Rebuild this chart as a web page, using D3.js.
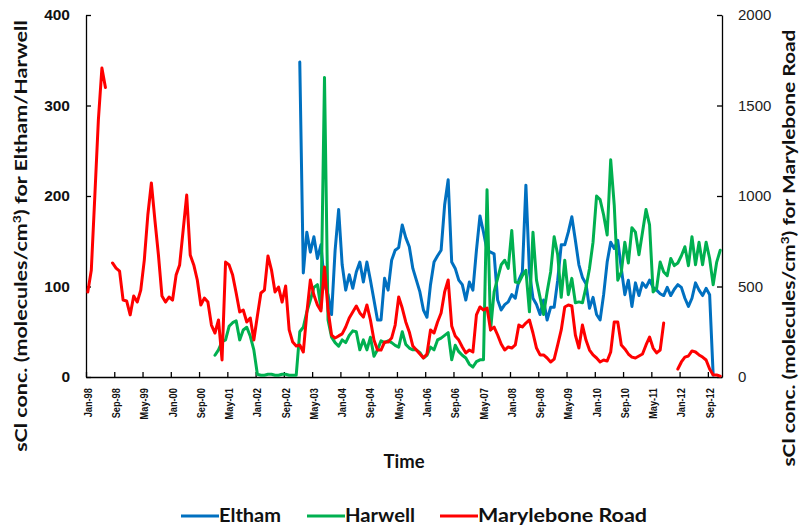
<!DOCTYPE html>
<html>
<head>
<meta charset="utf-8">
<script src="https://cdn.jsdelivr.net/npm/d3@7"></script>
<style>
  body { margin: 0; background: #fff; }
  svg { display: block; font-family: Lato, "Open Sans", sans-serif; }
  .axis path, .axis line { stroke: #000; stroke-width: 1.3; }
  .axis text { fill: #111; font-weight: bold; }
</style>
</head>
<body>
<svg id="chart" width="801" height="526"></svg>
<script>
// x tick labels, one every 8 months
const tickLabels = ["Jan-98", "Sep-98", "May-99", "Jan-00", "Sep-00", "May-01", "Jan-02", "Sep-02",
    "May-03", "Jan-04", "Sep-04", "May-05", "Jan-06", "Sep-06", "May-07", "Jan-08", "Sep-08",
    "May-09", "Jan-10", "Sep-10", "May-11", "Jan-12", "Sep-12"];

// monthly categories Jan-98 .. Dec-12
const months = d3.timeMonth.range(new Date(1998, 0, 1), new Date(2013, 0, 1));

const _ = null;
// Eltham (left axis)
const eltham = [
    _, _, _, _, _, _, _, _, _, _, _, _, _, _, _, _, _, _, _, _,
    _, _, _, _, _, _, _, _, _, _, _, _, _, _, _, _, _, _, _, _,
    _, _, _, _, _, _, _, _, _, _, _, _, _, _, _, _, _, _, _, _,
    348, 115, 160, 138, 155, 131, 146, 102, 91, 69,
    140, 185, 124, 96, 113, 98, 116, 127, 105, 127,
    107, 85, 63, 63, 109, 96, 129, 140, 143, 168,
    154, 144, 120, 107, 94, 74, 66, 102, 127, 134,
    140, 190, 218, 127, 120, 107, 102, 85, 105, 96,
    140, 178, 160, 140, 138, 136, 85, 74, 80, 83,
    91, 87, 107, 116, 212, 116, 87, 80, 69, 85,
    63, 77, 77, 107, 146, 146, 160, 177, 151, 124,
    110, 103, 76, 88, 69, 63, 91, 127, 149, 142,
    151, 120, 91, 107, 78, 104, 90, 104, 99, 107,
    99, 96, 92, 90, 99, 90, 97, 102, 99, 87,
    78, 87, 104, 96, 90, 98, 91, 2, _, _
];

// Harwell (left axis)
const harwell = [
    _, _, _, _, _, _, _, _, _, _, _, _, _, _, _, _, _, _, _, _,
    _, _, _, _, _, _, _, _, _, _, _, _, _, _, _, _, 24, 30, 39, 41,
    56, 60, 62, 41, 52, 55, 45, 30, 3, 2, 2, 3, 3, 2, 2, 3, 3, 2, 2, 2,
    50, 55, 72, 85, 99, 102, 76, 331, 63, 44,
    38, 34, 41, 38, 46, 51, 50, 30, 41, 30,
    44, 23, 30, 40, 38, 40, 38, 35, 33, 50,
    36, 32, 30, 30, 27, 21, 24, 33, 30, 41,
    43, 46, 49, 19, 35, 28, 24, 21, 14, 11,
    17, 19, 19, 207, 52, 94, 109, 124, 129, 120,
    162, 105, 104, 112, 118, 72, 160, 107, 88, 69,
    94, 116, 155, 135, 88, 129, 91, 109, 82, 83,
    82, 99, 120, 149, 200, 196, 179, 157, 240, 190,
    107, 116, 149, 126, 165, 160, 135, 160, 185, 168,
    94, 98, 127, 116, 112, 131, 123, 126, 134, 144,
    123, 155, 124, 149, 124, 149, 131, 102, 127, 140
];

// Marylebone Road (right axis)
const marylebone = [
    470, 590, 1000, 1420, 1707, 1600, _, 630, 602, 585,
    425, 420, 343, 447, 414, 480, 646, 895, 1072, 867,
    674, 447, 414, 442, 425, 563, 619, 812, 1005, 674,
    619, 536, 398, 436, 414, 287, 243, 315, 94, 635,
    619, 563, 464, 359, 370, 304, 326, 204, 337, 464,
    480, 669, 591, 470, 497, 414, 503, 260, 193, 171,
    177, 138, 354, 536, 453, 398, 365, 608, 370, 232,
    215, 227, 238, 276, 326, 359, 392, 354, 331, 398,
    315, 204, 149, 149, 193, 193, 215, 287, 442, 381,
    304, 249, 171, 149, 127, 105, 127, 260, 243, 304,
    354, 470, 536, 282, 227, 204, 166, 133, 149, 138,
    343, 387, 370, 381, 260, 276, 232, 182, 149, 166,
    160, 177, 287, 276, 298, 315, 243, 160, 122, 122,
    105, 83, 99, 177, 260, 387, 398, 392, 232, 160,
    287, 204, 149, 122, 105, 83, 94, 88, 138, 304,
    304, 177, 155, 127, 110, 105, 116, 127, 177, 221,
    160, 133, 149, 298, _, _, _, 44, 83, 110,
    116, 144, 138, 122, 110, 94, 44, 11, 11, 5
];

const leftTicks = [0, 100, 200, 300, 400];
const rightTicks = [0, 500, 1000, 1500, 2000];

const series = [
    { name: "Eltham", values: eltham, color: "#0070C0", axis: "left" },
    { name: "Harwell", values: harwell, color: "#00B050", axis: "left" },
    { name: "Marylebone Road", values: marylebone, color: "#FF0000", axis: "right" }
];

const svg = d3.select("#chart");
const plotLeft = 86, plotRight = 722, plotTop = 15, plotBottom = 377;

let x = d3.scaleBand().domain(months).range([plotLeft, plotRight]).padding(0);
let xEdge = d3.scaleLinear().domain([0, months.length]).range([plotLeft, plotRight]);
let yL = d3.scaleLinear().domain([0, 400]).range([plotBottom, plotTop]);
let yR = d3.scaleLinear().domain([0, 2000]).range([plotBottom, plotTop]);

// axes
svg.append("g")
    .attr("class", "axis")
    .attr("transform", "translate(" + plotLeft + ",0)")
    .call(d3.axisLeft(yL).tickValues(leftTicks).tickSize(-5).tickSizeOuter(0).tickPadding(16))
    .selectAll("text")
    .style("font-size", "15.5px");

svg.append("g")
    .attr("class", "axis")
    .attr("transform", "translate(" + plotRight + ",0)")
    .call(d3.axisRight(yR).tickValues(rightTicks).tickSize(-5).tickSizeOuter(0).tickPadding(16)
        .tickFormat(d3.format("d")))
    .selectAll("text")
    .style("font-size", "15px")
    .style("font-weight", "normal")
    .style("fill", "#222");

let edgeTicks = d3.range(0, months.length, 8);
svg.append("g")
    .attr("class", "axis")
    .attr("transform", "translate(0," + plotBottom + ")")
    .call(d3.axisBottom(xEdge).tickValues(edgeTicks).tickSize(-5).tickSizeOuter(0).tickFormat(""));

let labelMonths = months.filter(function(d, i) { return i % 8 === 0; });
let xLabels = svg.append("g")
    .attr("class", "axis")
    .attr("transform", "translate(0," + plotBottom + ")")
    .call(d3.axisBottom(x).tickValues(labelMonths).tickSize(0)
        .tickFormat(function(d, i) { return tickLabels[i]; }));
xLabels.select(".domain").remove();
// labels are thick but short in the reference: larger font squeezed along its length
xLabels.selectAll("text")
    .style("font-size", "11.5px")
    .style("text-anchor", "end")
    .attr("transform", "rotate(-90) scale(0.8,1)")
    .attr("x", -14)
    .attr("y", 0)
    .attr("dy", "0.35em");

// lines
series.forEach(function(s) {
    let yScale = s.axis === "left" ? yL : yR;
    let line = d3.line()
        .defined(function(d) { return d != null; })
        .x(function(d, i) { return x(months[i]) + x.bandwidth() / 2; })
        .y(function(d) { return yScale(d); });
    svg.append("path")
        .datum(s.values)
        .attr("fill", "none")
        .attr("stroke", s.color)
        .attr("stroke-width", 3)
        .attr("stroke-linejoin", "round")
        .attr("stroke-linecap", "round")
        .attr("d", line);
});

// axis titles
svg.append("text")
    .attr("x", 404)
    .attr("y", 468)
    .attr("text-anchor", "middle")
    .style("font-size", "18px")
    .style("font-weight", "bold")
    .attr("fill", "#111")
    .attr("textLength", 41)
    .attr("lengthAdjust", "spacingAndGlyphs")
    .text("Time");

// vertical title, stretched along its length to span `len` pixels
function verticalTitle(cx, cy, len, label) {
    let t = svg.append("text")
        .attr("text-anchor", "middle")
        .style("font-size", "17px")
        .style("font-weight", "bold")
        .attr("fill", "#111");
    t.append("tspan").text("sCl conc. (molecules/cm");
    t.append("tspan").attr("dy", -6).style("font-size", "11px").text("3");
    t.append("tspan").attr("dy", 6).text(") for " + label);
    let natural = t.node().getComputedTextLength();
    t.attr("transform", "translate(" + cx + "," + cy + ") rotate(-90) scale(" + (len / natural) + ",1)");
}
verticalTitle(27, 236, 432, "Eltham/Harwell");
verticalTitle(795, 248, 437, "Marylebone Road");

// legend
let legendX = [181, 307, 440];
let legendW = [62, 70, 169];
let legend = svg.append("g");
series.forEach(function(s, i) {
    let g = legend.append("g").attr("transform", "translate(" + legendX[i] + ",516)");
    g.append("line")
        .attr("x1", 0).attr("x2", 38)
        .attr("y1", 0).attr("y2", 0)
        .attr("stroke", s.color)
        .attr("stroke-width", 3);
    g.append("text")
        .attr("x", 38)
        .attr("y", 6)
        .style("font-size", "18px")
        .style("font-weight", "bold")
        .attr("fill", "#111")
        .attr("textLength", legendW[i])
        .attr("lengthAdjust", "spacingAndGlyphs")
        .text(s.name);
});
</script>
</body>
</html>
